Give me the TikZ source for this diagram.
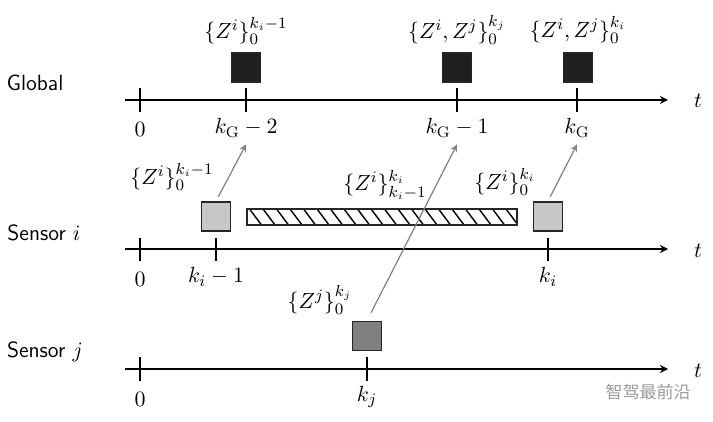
\documentclass[tikz,border=0pt]{standalone}
\usepackage{fontspec}
\newfontfamily\cjk{Noto Sans CJK SC}

\begin{document}
\begin{tikzpicture}[x=0.5pt, y=-0.5pt,
  font=\fontsize{11}{13}\selectfont,
  lane/.style={font=\sffamily\fontsize{11}{13}\selectfont},
  axis/.style={line width=0.8pt, -stealth},
  tk/.style={line width=0.8pt},
  box/.style={draw=black!85, line width=0.8pt, minimum size=14.5pt, inner sep=0pt},
  msg/.style={black!50, line width=0.6pt, -stealth}]
  \useasboundingbox (0,0) rectangle (713,422);
  % global
  \node[lane] at (35,83) {Global};
  \draw[axis] (125,100) -- (668,100);
  \node at (698,101) {$t$};
  \foreach \x in {140,246,457,577} \draw[tk] (\x,88) -- (\x,112);
  \node (g0) at (140,129) {$0$};
  \node (g1) at (246,128) {$k_{\mathrm{G}}-2$};
  \node (g2) at (457,128) {$k_{\mathrm{G}}-1$};
  \node (g3) at (577,128) {$k_{\mathrm{G}}$};
  \node[box, fill=black!88] (ga) at (246,67.5) {};
  \node[box, fill=black!88] (gb) at (457,67.5) {};
  \node[box, fill=black!88] (gc) at (578,67.5) {};
  \node at (246,31) {$\{Z^i\}_0^{k_i-1}$};
  \node at (457,30) {$\{Z^i,Z^j\}_0^{k_j}$};
  \node at (578,30) {$\{Z^i,Z^j\}_0^{k_i}$};
  % sensor i
  \node[lane] at (44,233) {Sensor $i$};
  \draw[axis] (125,249) -- (668,249);
  \node at (698,251) {$t$};
  \foreach \x in {140,216,548} \draw[tk] (\x,238) -- (\x,261);
  \node (i0) at (140,279) {$0$};
  \node (i1) at (216,277) {$k_i-1$};
  \node (i2) at (548,277) {$k_i$};
  \node[box, fill=black!22] (sa) at (216,216.5) {};
  \node[box, fill=black!22] (sb) at (548,216.5) {};
  \begin{scope}
    \clip (247,209) rectangle (517,225);
    \foreach \x in {236,249.5,...,520} \draw[line width=0.7pt] (\x,209) -- (\x+12,225);
  \end{scope}
  \draw[line width=0.8pt, draw=black!85] (247,209) rectangle (517,225);
  \node at (172,177) {$\{Z^i\}_0^{k_i-1}$};
  \node at (385,185) {$\{Z^i\}_{k_i-1}^{k_i}$};
  \node at (505,182) {$\{Z^i\}_0^{k_i}$};
  % sensor j
  \node[lane] at (45,352) {Sensor $j$};
  \draw[axis] (125,369) -- (668,369);
  \node at (698,371) {$t$};
  \foreach \x in {140,367} \draw[tk] (\x,357) -- (\x,381);
  \node (j0) at (140,399) {$0$};
  \node (j1) at (367,397) {$k_j$};
  \node[box, fill=black!50] (sj) at (367,336) {};
  \node at (320,300) {$\{Z^j\}_0^{k_j}$};
  % messages
  \draw[msg, shorten <=2.5pt] (sa.north) -- (g1.south);
  \draw[msg, shorten <=2.5pt] (sb.north) -- (g3.south);
  \draw[msg, shorten <=4.5pt] (sj.north) -- (g2.south);
  \node[text=black!40, font=\cjk\fontsize{8.5}{10}\selectfont] at (648,392) {智驾最前沿};
\end{tikzpicture}
\end{document}
